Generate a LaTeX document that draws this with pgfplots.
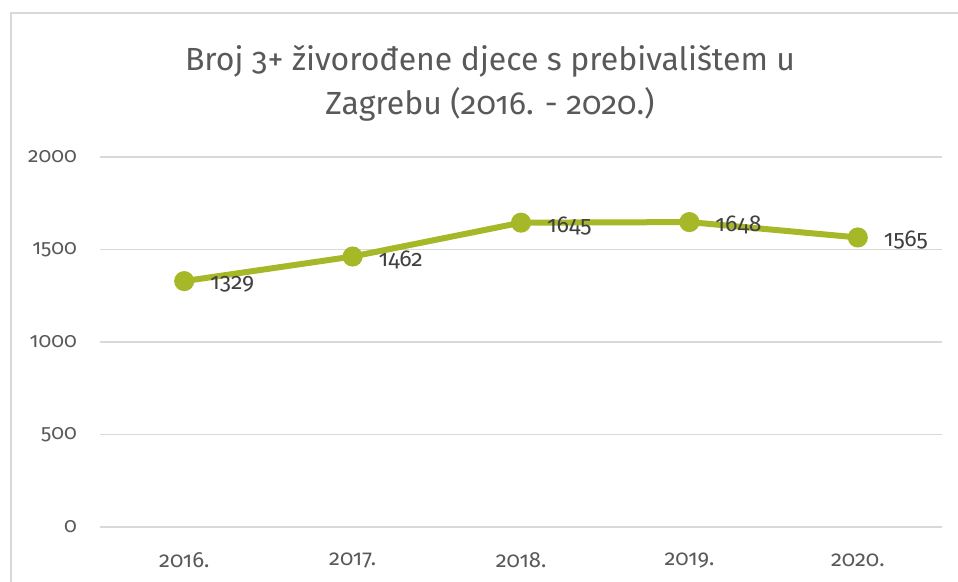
\documentclass[border=0pt]{standalone}
\usepackage{fontspec}
\setmainfont{Fira Sans}[Numbers=OldStyle]
\usepackage{pgfplots}
\pgfplotsset{compat=1.18}
\definecolor{linegreen}{HTML}{A6B727}
\definecolor{gridgray}{HTML}{D9D9D9}
\definecolor{ticktext}{HTML}{595959}
\definecolor{labeltext}{HTML}{404040}
\begin{document}
\begin{tikzpicture}[x=1bp,y=1bp]
\path[use as bounding box] (0,0) rectangle (958,582);
\draw[gridgray, line width=1.5bp] (11,0) -- (11,569) -- (958,569);
\node[text=ticktext, font=\fontsize{32bp}{38bp}\selectfont] at (490,521) {Broj 3+ živorođene djece s prebivalištem u};
\node[text=ticktext, font=\fontsize{32bp}{38bp}\selectfont] at (490,478) {Zagrebu (2016. - 2020.)};
\begin{axis}[
  at={(100bp,55bp)}, anchor=south west,
  scale only axis, width=842bp, height=370bp,
  xmin=-0.5, xmax=4.5, ymin=0, ymax=2000,
  xtick={0,1,2,3,4},
  xticklabels={2016.,2017.,2018.,2019.,2020.},
  ytick={0,500,1000,1500,2000},
  axis line style={draw=none},
  major tick length=0pt,
  ymajorgrids, grid style={gridgray, line width=1.5bp},
  tick label style={text=ticktext, inner sep=0pt},
  yticklabel style={anchor=east, xshift=-23bp, font=\fontsize{21bp}{24bp}\selectfont},
  xticklabel style={anchor=center, yshift=-33bp, font=\fontsize{22bp}{24bp}\selectfont},
  /pgf/number format/assume math mode=true,
  /pgf/number format/1000 sep={},
  clip=false,
]
\addplot[color=linegreen, line width=6bp, mark=*, mark size=7bp,
  mark options={fill=linegreen, draw=none},
  nodes near coords, point meta=y,
  nodes near coords style={anchor=west, inner sep=0pt, xshift=23bp, yshift=-3bp, text=labeltext,
    font=\fontsize{23bp}{26bp}\selectfont,
    /pgf/number format/.cd, fixed, precision=0, 1000 sep={}, assume math mode=true},
] coordinates {(0,1329) (1,1462) (2,1645) (3,1648) (4,1565)};
\end{axis}
\end{tikzpicture}
\end{document}
